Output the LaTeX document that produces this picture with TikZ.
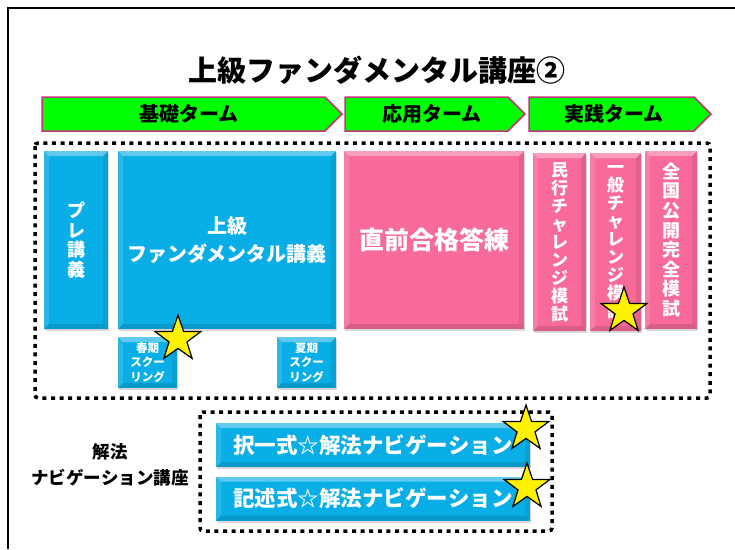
\documentclass[tikz,border=0pt]{standalone}
\usepackage{fontspec}
\newfontfamily\jp{Noto Sans CJK JP}
\usetikzlibrary{shapes.geometric,shadows}
\definecolor{cblue}{HTML}{0AAEE6}
\definecolor{cpink}{HTML}{F76A9A}
\definecolor{cgreen}{HTML}{00FF00}
\definecolor{cmag}{HTML}{C8327D}
\begin{document}
\begin{tikzpicture}[x=1pt,y=-1pt,
  every node/.style={font=\jp\bfseries},
  bevel/.style={path picture={
    \fill[white,opacity=.35] (path picture bounding box.north west) -- (path picture bounding box.north east)
      -- ([shift={(-5pt,-5pt)}]path picture bounding box.north east) -- ([shift={(5pt,-5pt)}]path picture bounding box.north west) -- cycle;
    \fill[white,opacity=.12] (path picture bounding box.north west) -- ([shift={(5pt,-5pt)}]path picture bounding box.north west)
      -- ([shift={(5pt,5pt)}]path picture bounding box.south west) -- (path picture bounding box.south west) -- cycle;
    \fill[black,opacity=.08] (path picture bounding box.north east) -- ([shift={(-5pt,-5pt)}]path picture bounding box.north east)
      -- ([shift={(-5pt,5pt)}]path picture bounding box.south east) -- (path picture bounding box.south east) -- cycle;
    \fill[black,opacity=.12] (path picture bounding box.south west) -- (path picture bounding box.south east)
      -- ([shift={(-5pt,5pt)}]path picture bounding box.south east) -- ([shift={(5pt,5pt)}]path picture bounding box.south west) -- cycle;
  }},
  box/.style={draw=none, inner sep=0pt, text=white, align=center, bevel,
    drop shadow={opacity=.3, shadow xshift=1pt, shadow yshift=-2pt}},
  bluebox/.style={box, fill=cblue},
  pinkbox/.style={box, fill=cpink},
  term/.style={fill=cgreen, draw=cmag, line width=1.5pt, line join=miter},
  dotframe/.style={draw=black, line width=3.5pt, dash pattern=on 4pt off 4.6pt, rounded corners=3pt},
  starmark/.style={star, star points=5, star point ratio=2.55, minimum size=48pt, inner sep=0pt,
    fill=yellow, draw=black, line width=1.2pt},
  vtext/.style={font=\jp\bfseries\fontsize{17}{18}\selectfont}
]
\useasboundingbox (0,0) rectangle (735,549);
% outer frame
\draw[line width=2.2pt] (8,549) -- (8,8) -- (735,8);

% title
\node[font=\jp\bfseries\fontsize{29}{32}\selectfont] (title) at (377,70) {上級ファンダメンタル講座②};

% term arrows
\draw[term] (42,97) -- (325,97) -- (342,114) -- (325,131) -- (42,131) -- cycle;
\draw[term] (345,97) -- (508,97) -- (525,114) -- (508,131) -- (345,131) -- cycle;
\draw[term] (529,97) -- (694,97) -- (711,114) -- (694,131) -- (529,131) -- cycle;
\node[font=\jp\bfseries\fontsize{20}{22}\selectfont] (h1) at (189,114) {基礎ターム};
\node[font=\jp\bfseries\fontsize{20}{22}\selectfont] (h2) at (432,114) {応用ターム};
\node[font=\jp\bfseries\fontsize{20}{22}\selectfont] (h3) at (614,114) {実践ターム};

% main dotted frame
\draw[dotframe] (35,143) rectangle (710,398);

% blue boxes
\node[bluebox, minimum width=64pt, minimum height=178pt, font=\jp\bfseries\fontsize{18}{19.5}\selectfont] (pre) at (76,240) {プ\\レ\\講\\義};
\node[bluebox, minimum width=218pt, minimum height=178pt, font=\jp\bfseries\fontsize{20}{28}\selectfont] (fund) at (227,240) {上級\\ファンダメンタル講義};
\node[bluebox, minimum width=59pt, minimum height=51pt, font=\jp\bfseries\fontsize{11.5}{14.5}\selectfont] (spring) at (147.5,362.5) {春期\\スクー\\リング};
\node[bluebox, minimum width=59pt, minimum height=51pt, font=\jp\bfseries\fontsize{11.5}{14.5}\selectfont] (summer) at (306.5,362.5) {夏期\\スクー\\リング};

% pink boxes
\node[pinkbox, minimum width=180pt, minimum height=178pt, font=\jp\bfseries\fontsize{25}{28}\selectfont] (choku) at (434,240) {直前合格答練};
\node[pinkbox, vtext, minimum width=53pt, minimum height=178pt] (minko) at (559.5,242) {民\\行\\チ\\ャ\\レ\\ン\\ジ\\模\\試};
\node[pinkbox, vtext, minimum width=51pt, minimum height=178pt] (ippan) at (615.5,242) {一\\般\\チ\\ャ\\レ\\ン\\ジ\\模\\試};
\node[pinkbox, minimum width=52pt, minimum height=178pt, font=\jp\bfseries\fontsize{18}{19.6}\selectfont] (zenkoku) at (671,240) {全\\国\\公\\開\\完\\全\\模\\試};

% bottom section
\node[font=\jp\bfseries\fontsize{17.5}{26}\selectfont, align=center] (navlabel) at (110,465) {解法\\ナビゲーション講座};
\draw[dotframe] (200,412) rectangle (552,531);
\node[bluebox, minimum width=314pt, minimum height=44pt, font=\jp\bfseries\fontsize{21.5}{24}\selectfont] (nav1) at (373,445) {択一式☆解法ナビゲーション};
\node[bluebox, minimum width=314pt, minimum height=44pt, font=\jp\bfseries\fontsize{21.5}{24}\selectfont] (nav2) at (373,498.5) {記述式☆解法ナビゲーション};

% stars
\node[starmark] (s1) at (178,339) {};
\node[starmark] (s2) at (624,311) {};
\node[starmark] (s3) at (526,429) {};
\node[starmark] (s4) at (527,487) {};
\end{tikzpicture}
\end{document}
